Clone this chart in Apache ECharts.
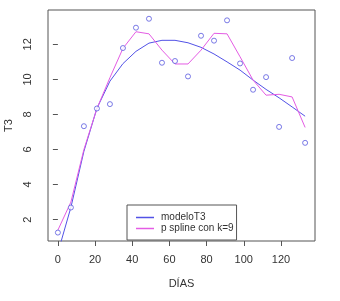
<!DOCTYPE html>
<html>
<head>
<meta charset="utf-8">
<script src="https://cdn.jsdelivr.net/npm/echarts@6/dist/echarts.min.js"></script>
<style>
  html, body { margin: 0; padding: 0; background: #fff; }
  #chart { width: 340px; height: 301px; }
</style>
</head>
<body>
<div id="chart"></div>
<script>
// días de muestreo
const days = [0, 7, 14, 21, 28, 35, 42, 49, 56, 63, 70, 77, 84, 91, 98, 105, 112, 119, 126, 133]
// valores observados de T3
const t3 = [1.26, 2.69, 7.33, 8.34, 8.59, 11.79, 12.95, 13.46, 10.95, 11.05, 10.17, 12.49, 12.21, 13.37, 10.91, 9.41, 10.13, 7.29, 11.22, 6.38]
// curva ajustada modeloT3
const modelo = [0.12, 2.7, 5.9, 8.35, 9.9, 10.9, 11.6, 12.07, 12.23, 12.23, 12.09, 11.83, 11.45, 11.0, 10.53, 9.96, 9.43, 8.95, 8.43, 7.9]
// p spline con k=9
const pspline = [1.4, 3.0, 6.0, 8.34, 10.1, 11.77, 12.72, 12.6, 11.67, 10.88, 10.88, 11.67, 12.63, 12.6, 11.29, 9.96, 9.1, 9.15, 9.0, 7.26]
const xTicks = [0, 20, 40, 60, 80, 100, 120]
const yTicks = [2, 4, 6, 8, 10, 12]

const BLUE = '#5252e6'
const PINK = '#e45ce4'
const txt = { color: '#333', fontFamily: 'Liberation Sans, Arial, sans-serif', fontSize: 11 }

const zip = (xs, ys) => xs.map((x, i) => [x, ys[i]])

const chart = echarts.init(document.getElementById('chart'))
chart.setOption({
  animation: false,
  backgroundColor: '#fff',
  grid: {
    left: 48, right: 25, top: 10, bottom: 60,
    outerBoundsMode: 'none', containLabel: false,
    show: true, borderColor: '#555', borderWidth: 1, backgroundColor: 'transparent'
  },
  xAxis: {
    type: 'value', min: -5.32, max: 138.32,
    name: 'DÍAS', nameLocation: 'middle', nameGap: 37,
    nameTextStyle: txt,
    axisLine: { show: false },
    splitLine: { show: false },
    axisTick: { show: true, length: 5, customValues: xTicks, lineStyle: { color: '#555' } },
    axisLabel: { ...txt, margin: 13, customValues: xTicks }
  },
  yAxis: {
    type: 'value', min: 0.78, max: 13.96,
    name: 'T3', nameLocation: 'middle', nameGap: 32,
    nameTextStyle: txt,
    axisLine: { show: false },
    splitLine: { show: false },
    axisTick: { show: true, length: 5, customValues: yTicks, lineStyle: { color: '#555' } },
    axisLabel: { ...txt, margin: 15, rotate: 90, customValues: yTicks }
  },
  legend: {
    orient: 'vertical', left: 127, top: 205,
    data: ['modeloT3', 'p spline con k=9'],
    icon: 'rect',
    backgroundColor: '#fff', borderColor: '#555', borderWidth: 1, borderRadius: 0,
    padding: [7, 3, 6, 9], itemGap: 0, itemWidth: 18, itemHeight: 1.5,
    textStyle: { ...txt, fontSize: 10, lineHeight: 11, padding: [0, 0, 0, 2] }
  },
  series: [
    {
      type: 'scatter', name: 'T3', data: zip(days, t3),
      symbol: 'circle', symbolSize: 5,
      itemStyle: { color: '#fff', borderColor: '#5a5ae0', borderWidth: 1 }, z: 3
    },
    {
      type: 'line', name: 'modeloT3', data: zip(days, modelo),
      symbol: 'none', clip: true,
      lineStyle: { color: BLUE, width: 1 }, itemStyle: { color: BLUE }
    },
    {
      type: 'line', name: 'p spline con k=9', data: zip(days, pspline),
      symbol: 'none', clip: true,
      lineStyle: { color: PINK, width: 1 }, itemStyle: { color: PINK }
    }
  ]
})
</script>
</body>
</html>
